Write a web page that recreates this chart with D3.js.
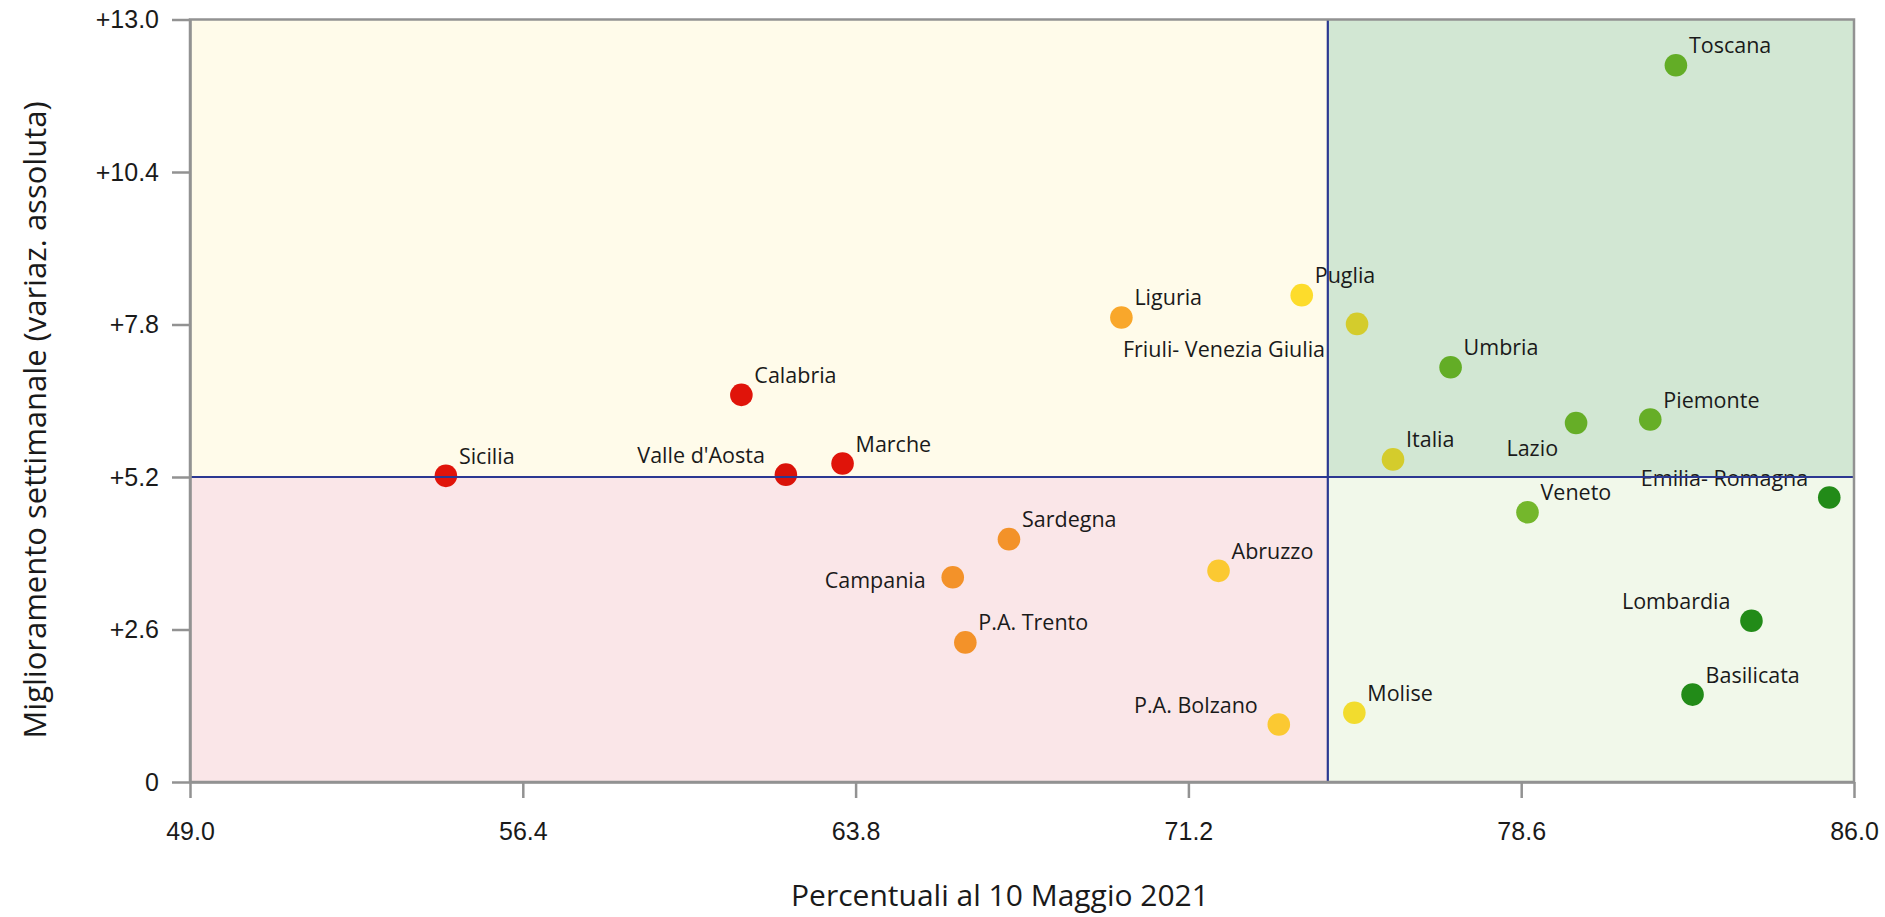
<!DOCTYPE html>
<html>
<head>
<meta charset="utf-8">
<script src="https://cdn.jsdelivr.net/npm/d3@7"></script>
<style>
  html, body { margin: 0; padding: 0; background: #ffffff; }
  svg { display: block; }
</style>
</head>
<body>
<svg id="chart" width="1885" height="917"></svg>
<script>
// ---------------- DATA ----------------
const regions = ["Toscana", "Puglia", "Liguria", "Friuli- Venezia Giulia", "Umbria", "Calabria",
  "Piemonte", "Lazio", "Italia", "Marche", "Valle d'Aosta", "Sicilia", "Emilia- Romagna",
  "Veneto", "Sardegna", "Abruzzo", "Campania", "Lombardia", "P.A. Trento", "Basilicata",
  "Molise", "P.A. Bolzano"];
const xValues = [82.04, 73.72, 69.71, 74.95, 77.03, 61.26,
  81.47, 79.82, 75.75, 63.51, 62.25, 54.69, 85.45,
  78.74, 67.21, 71.87, 65.96, 83.72, 66.24, 82.41,
  74.89, 73.21];
const yValues = [12.22, 8.30, 7.92, 7.81, 7.07, 6.60,
  6.18, 6.12, 5.50, 5.43, 5.24, 5.22, 4.85,
  4.60, 4.14, 3.60, 3.49, 2.75, 2.38, 1.49,
  1.18, 0.98];
const pointColors = ["#63ad26", "#fddc2b", "#f9a72b", "#d4cc2c", "#63ad26", "#e0140a",
  "#66ae27", "#66ae27", "#d4cc2c", "#e0140a", "#da1209", "#e0140a", "#228b18",
  "#74b72c", "#f39229", "#fbc932", "#f39229", "#228b18", "#f39229", "#228b18",
  "#f2dc2e", "#fbc932"];
const xTicks = [49.0, 56.4, 63.8, 71.2, 78.6, 86.0];
const yTicks = [0, 2.6, 5.2, 7.8, 10.4, 13.0];
const xDomain = [49.0, 86.0];
const yDomain = [0, 13.0];
const xThreshold = 74.3;
const yThreshold = 5.2;
const xTitle = "Percentuali al 10 Maggio 2021";
const yTitle = "Miglioramento settimanale (variaz. assoluta)";

// label placement (style only)
const placement = {
  "Friuli- Venezia Giulia": "downleft",
  "Lazio": "downleft",
  "Valle d'Aosta": "upleft",
  "Emilia- Romagna": "upleft",
  "Lombardia": "upleft",
  "P.A. Bolzano": "upleft",
  "Campania": "left"
};

// ---------------- CHART ----------------
const svg = d3.select("#chart");
const L = 190, R = 1854, T = 19.5, B = 782;
const x = d3.scaleLinear().domain(xDomain).range([L, R]);
const y = d3.scaleLinear().domain(yDomain).range([B, T]);

const data = regions.map((r, i) => ({ name: r, x: xValues[i], y: yValues[i], c: pointColors[i] }));

// quadrant backgrounds
const quads = [
  { x0: xDomain[0], x1: xThreshold, y0: yThreshold, y1: yDomain[1], fill: "#fffbea" },
  { x0: xThreshold, x1: xDomain[1], y0: yThreshold, y1: yDomain[1], fill: "#d2e7d3" },
  { x0: xDomain[0], x1: xThreshold, y0: yDomain[0], y1: yThreshold, fill: "#fae6e8" },
  { x0: xThreshold, x1: xDomain[1], y0: yDomain[0], y1: yThreshold, fill: "#f1f8ea" }
];
svg.append("g").selectAll("rect").data(quads).join("rect")
  .attr("x", d => x(d.x0)).attr("y", d => y(d.y1))
  .attr("width", d => x(d.x1) - x(d.x0)).attr("height", d => y(d.y0) - y(d.y1))
  .attr("fill", d => d.fill);

// points
svg.append("g").selectAll("circle").data(data).join("circle")
  .attr("cx", d => x(d.x)).attr("cy", d => y(d.y)).attr("r", 11.3)
  .attr("fill", d => d.c);

// labels
const labelFont = "'Open Sans', 'Noto Sans', sans-serif";
svg.append("g").selectAll("text").data(data).join("text")
  .attr("font-family", labelFont).attr("font-size", 21.5).attr("fill", "#1a1a1a")
  .attr("x", d => {
    const p = placement[d.name];
    if (p === "upleft") return x(d.x) - 21;
    if (p === "left") return x(d.x) - 27;
    if (p === "downleft") return x(d.x) - (d.name === "Lazio" ? 18 : 32);
    return x(d.x) + 13;
  })
  .attr("y", d => {
    const p = placement[d.name];
    if (p === "left") return y(d.y) + 11;
    if (p === "downleft") return y(d.y) + 33;
    return y(d.y) - 12;
  })
  .attr("text-anchor", d => placement[d.name] ? "end" : "start")
  .text(d => d.name);

// quadrant divider lines
svg.append("line")
  .attr("x1", x(xThreshold)).attr("x2", x(xThreshold))
  .attr("y1", y(yDomain[1])).attr("y2", y(yDomain[0]))
  .attr("stroke", "#2b3891").attr("stroke-width", 2.2);
svg.append("line")
  .attr("x1", x(xDomain[0])).attr("x2", x(xDomain[1]))
  .attr("y1", y(yThreshold)).attr("y2", y(yThreshold))
  .attr("stroke", "#2b3891").attr("stroke-width", 2.2);

// frame
svg.append("rect")
  .attr("x", L).attr("y", T).attr("width", R - L).attr("height", B - T)
  .attr("fill", "none").attr("stroke", "#929292").attr("stroke-width", 2.5);

// axes
const tickFont = "'Liberation Sans', Arial, sans-serif";
const xAxis = d3.axisBottom(x).tickValues(xTicks).tickFormat(d3.format(".1f"))
  .tickSize(16).tickPadding(24).tickSizeOuter(0);
const gx = svg.append("g").attr("transform", `translate(0,${B})`).call(xAxis);
const yAxis = d3.axisLeft(y).tickValues(yTicks)
  .tickFormat(d => d === 0 ? "0" : "+" + d3.format(".1f")(d))
  .tickSize(18).tickPadding(13).tickSizeOuter(0);
const gy = svg.append("g").attr("transform", `translate(${L},0)`).call(yAxis);

[gx, gy].forEach(g => {
  g.select(".domain").attr("stroke", "#929292").attr("stroke-width", 2.5);
  g.selectAll(".tick line").attr("stroke", "#929292").attr("stroke-width", 2.5);
  g.selectAll(".tick text").attr("font-family", tickFont).attr("font-size", 25).attr("fill", "#1a1a1a");
});

// axis titles
svg.append("text")
  .attr("x", 1000).attr("y", 906)
  .attr("text-anchor", "middle")
  .attr("font-family", "'Open Sans', 'Noto Sans', sans-serif").attr("font-size", 30)
  .attr("fill", "#1a1a1a")
  .text(xTitle);
svg.append("text")
  .attr("transform", `translate(46,420) rotate(-90)`)
  .attr("text-anchor", "middle")
  .attr("font-family", "'Open Sans', 'Noto Sans', sans-serif").attr("font-size", 31)
  .attr("fill", "#1a1a1a")
  .text(yTitle);
</script>
</body>
</html>
